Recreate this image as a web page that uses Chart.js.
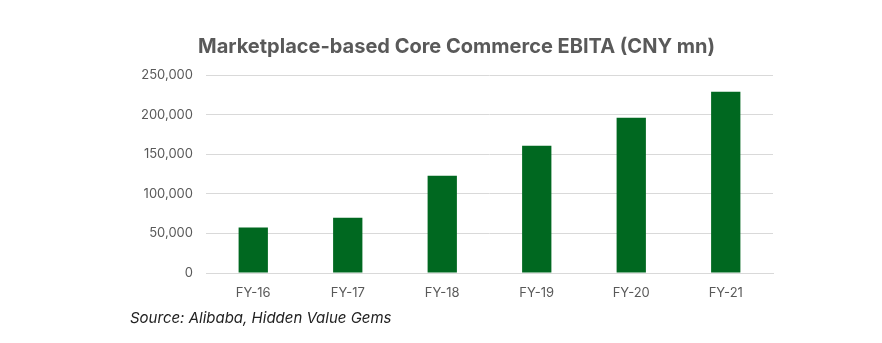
<!DOCTYPE html>
<html>
<head>
<meta charset="utf-8">
<script src="https://cdn.jsdelivr.net/npm/chart.js@4"></script>
<style>
  html, body { margin: 0; padding: 0; background: #fff; }
  #wrap { position: relative; width: 882px; height: 343px; }
  #source {
    position: absolute; left: 130px; top: 308px;
    font: italic 15px Inter, sans-serif; color: #222;
  }
</style>
</head>
<body>
<div id="wrap">
  <canvas id="chart" width="882" height="343"></canvas>
  <div id="source">Source: Alibaba, Hidden Value Gems</div>
</div>
<script>
const years = ['FY-16', 'FY-17', 'FY-18', 'FY-19', 'FY-20', 'FY-21'];
const ebita = [57300, 69900, 122700, 160600, 196000, 228900];
const y_max = 250000;
const y_step = 50000;

const grey_text = '#595959';

new Chart(document.getElementById('chart'), {
    type: 'bar',
    data: {
        labels: years,
        datasets: [{
            label: 'EBITA',
            data: ebita,
            backgroundColor: '#006820',
            barPercentage: 0.31,
            categoryPercentage: 1
        }]
    },
    options: {
        responsive: false,
        animation: false,
        layout: { padding: { left: 140, right: 109, top: 0, bottom: 40 } },
        plugins: {
            legend: { display: false },
            tooltip: { enabled: false },
            title: {
                display: true,
                text: 'Marketplace-based Core Commerce EBITA (CNY mn)',
                color: grey_text,
                font: { family: 'Inter', size: 20, weight: 'bold' },
                padding: { top: 35, bottom: 16 }
            }
        },
        scales: {
            x: {
                grid: { display: false, drawTicks: false },
                border: { display: true, color: '#d9d9d9' },
                ticks: { color: grey_text, font: { family: 'Inter', size: 13 }, padding: 12 },
                afterFit: scale => { scale.height = 30; }
            },
            y: {
                min: 0,
                max: y_max,
                ticks: {
                    stepSize: y_step,
                    color: grey_text,
                    font: { family: 'Inter', size: 13 },
                    padding: 13,
                    callback: v => v.toLocaleString('en-US')
                },
                grid: { color: '#d9d9d9', drawTicks: false },
                border: { display: false },
                afterFit: scale => { scale.width = 66; }
            }
        }
    }
});
</script>
</body>
</html>
